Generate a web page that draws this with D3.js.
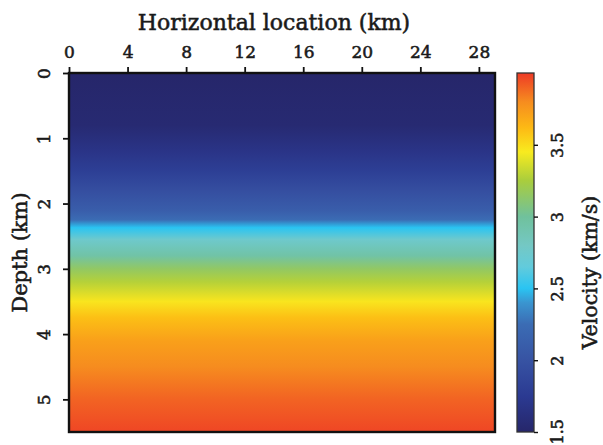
<!DOCTYPE html>
<html>
<head>
<meta charset="utf-8">
<script src="https://cdn.jsdelivr.net/npm/d3@7"></script>
<style>
  body { margin: 0; background: #fff; }
  text { font-family: "DejaVu Serif", serif; fill: #1a1a1a; stroke: #1a1a1a; stroke-width: 0.55px; }
</style>
</head>
<body>
<div id="chart"></div>
<script>
// 深度ごとの速度 (km, km/s)
const depths = [0, 0.8, 1.2, 1.5, 1.8, 2.1, 2.25, 2.37, 2.55, 2.8, 3.0, 3.2, 3.5, 3.75, 4.1, 4.5, 5.0, 5.5];
const velocities = [1.5, 1.55, 1.68, 1.8, 1.95, 2.1, 2.25, 2.5, 2.75, 2.95, 3.15, 3.28, 3.47, 3.6, 3.72, 3.8, 3.9, 3.97];

const xTicks = [0, 4, 8, 12, 16, 20, 24, 28];
const yTicks = [0, 1, 2, 3, 4, 5];
const cTicks = [1.5, 2, 2.5, 3, 3.5];

// カラーマップ
const cmapValues = [1.5, 1.75, 2.0, 2.25, 2.4, 2.5, 2.65, 2.8, 3.0, 3.25, 3.45, 3.62, 3.8, 4.0];
const cmapColors = ['#26266a', '#2b3a92', '#3753a3', '#3b6cb4', '#3a95d0', '#2ac4f2', '#62cbdc', '#74c8c4', '#70c19c', '#a9cd3d', '#f8eb1f', '#fdb914', '#f68c1f', '#ee3a26'];

const width = 603;
const height = 445;
const plot = { left: 69, top: 73, right: 495, bottom: 432 };
const bar = { left: 517, right: 534 };

const svg = d3.select('#chart').append('svg')
    .attr('width', width)
    .attr('height', height);

const x = d3.scaleLinear().domain([0, 29.1]).range([plot.left, plot.right]);
const y = d3.scaleLinear().domain([0, 5.5]).range([plot.top, plot.bottom]);
const color = d3.scaleLinear().domain(cmapValues).range(cmapColors).clamp(true);
const cy = d3.scaleLinear().domain([1.5, 4.0]).range([plot.bottom, plot.top]);

const defs = svg.append('defs');

// 速度モデルのグラデーション
const modelGrad = defs.append('linearGradient')
    .attr('id', 'modelGrad')
    .attr('x1', 0).attr('y1', 0).attr('x2', 0).attr('y2', 1);
modelGrad.selectAll('stop')
    .data(depths.map((d, i) => ({ d, v: velocities[i] })))
    .enter().append('stop')
    .attr('offset', p => (y(p.d) - plot.top) / (plot.bottom - plot.top))
    .attr('stop-color', p => color(p.v));

svg.append('rect')
    .attr('x', x(0)).attr('y', y(0))
    .attr('width', x(29.1) - x(0))
    .attr('height', y(5.5) - y(0))
    .attr('fill', 'url(#modelGrad)');

svg.append('rect')
    .attr('x', x(0)).attr('y', y(0))
    .attr('width', x(29.1) - x(0))
    .attr('height', y(5.5) - y(0))
    .attr('fill', 'none')
    .attr('stroke', '#111')
    .attr('stroke-width', 2.4);

// 軸
const xAxis = svg.append('g')
    .attr('transform', `translate(0,${plot.top})`)
    .call(d3.axisTop(x).tickValues(xTicks).tickSize(6).tickPadding(9));
xAxis.select('.domain').remove();
xAxis.selectAll('line').attr('stroke', '#111').attr('stroke-width', 1.8);
xAxis.selectAll('text').style('font-size', '17px').attr('fill', '#1a1a1a');

const yAxis = svg.append('g')
    .attr('transform', `translate(${plot.left},0)`)
    .call(d3.axisLeft(y).tickValues(yTicks).tickSize(6).tickFormat(d3.format('d')));
yAxis.select('.domain').remove();
yAxis.selectAll('line').attr('stroke', '#111').attr('stroke-width', 1.8);
yAxis.selectAll('text')
    .style('font-size', '17px')
    .attr('fill', '#1a1a1a')
    .attr('x', null).attr('dy', null)
    .attr('text-anchor', 'middle')
    .attr('transform', 'translate(-19,0) rotate(-90)')
    .attr('y', 0);

svg.append('text')
    .attr('x', 274)
    .attr('y', 30)
    .attr('text-anchor', 'middle')
    .style('font-size', '22px')
    .text('Horizontal location (km)');

svg.append('text')
    .attr('transform', `translate(27,${(plot.top + plot.bottom) / 2}) rotate(-90)`)
    .attr('text-anchor', 'middle')
    .style('font-size', '21px')
    .text('Depth (km)');

// カラーバー
const barGrad = defs.append('linearGradient')
    .attr('id', 'barGrad')
    .attr('x1', 0).attr('y1', 1).attr('x2', 0).attr('y2', 0);
barGrad.selectAll('stop')
    .data(cmapValues)
    .enter().append('stop')
    .attr('offset', v => (v - 1.5) / 2.5)
    .attr('stop-color', v => color(v));

svg.append('rect')
    .attr('x', bar.left).attr('y', cy(4.0))
    .attr('width', bar.right - bar.left)
    .attr('height', cy(1.5) - cy(4.0))
    .attr('fill', 'url(#barGrad)')
    .attr('stroke', '#333')
    .attr('stroke-width', 1.3);

const cAxis = svg.append('g')
    .attr('transform', `translate(${bar.right},0)`)
    .call(d3.axisRight(cy).tickValues(cTicks).tickSize(4).tickFormat(d3.format('')));
cAxis.select('.domain').remove();
cAxis.selectAll('line').attr('stroke', '#111').attr('stroke-width', 1.4);
cAxis.selectAll('text')
    .style('font-size', '16px')
    .attr('fill', '#1a1a1a')
    .attr('x', null).attr('dy', null)
    .attr('text-anchor', 'middle')
    .attr('transform', 'translate(29,0) rotate(-90)')
    .attr('y', 0);
// 下端の 1.5 は枠内に収める
cAxis.selectAll('text').filter(d => d === 1.5)
    .attr('text-anchor', 'start')
    .attr('transform', `translate(29,${-plot.bottom + 444}) rotate(-90)`);

svg.append('text')
    .attr('transform', `translate(597,${(plot.top + plot.bottom) / 2 + 20}) rotate(-90)`)
    .attr('text-anchor', 'middle')
    .style('font-size', '20.5px')
    .text('Velocity (km/s)');
</script>
</body>
</html>
